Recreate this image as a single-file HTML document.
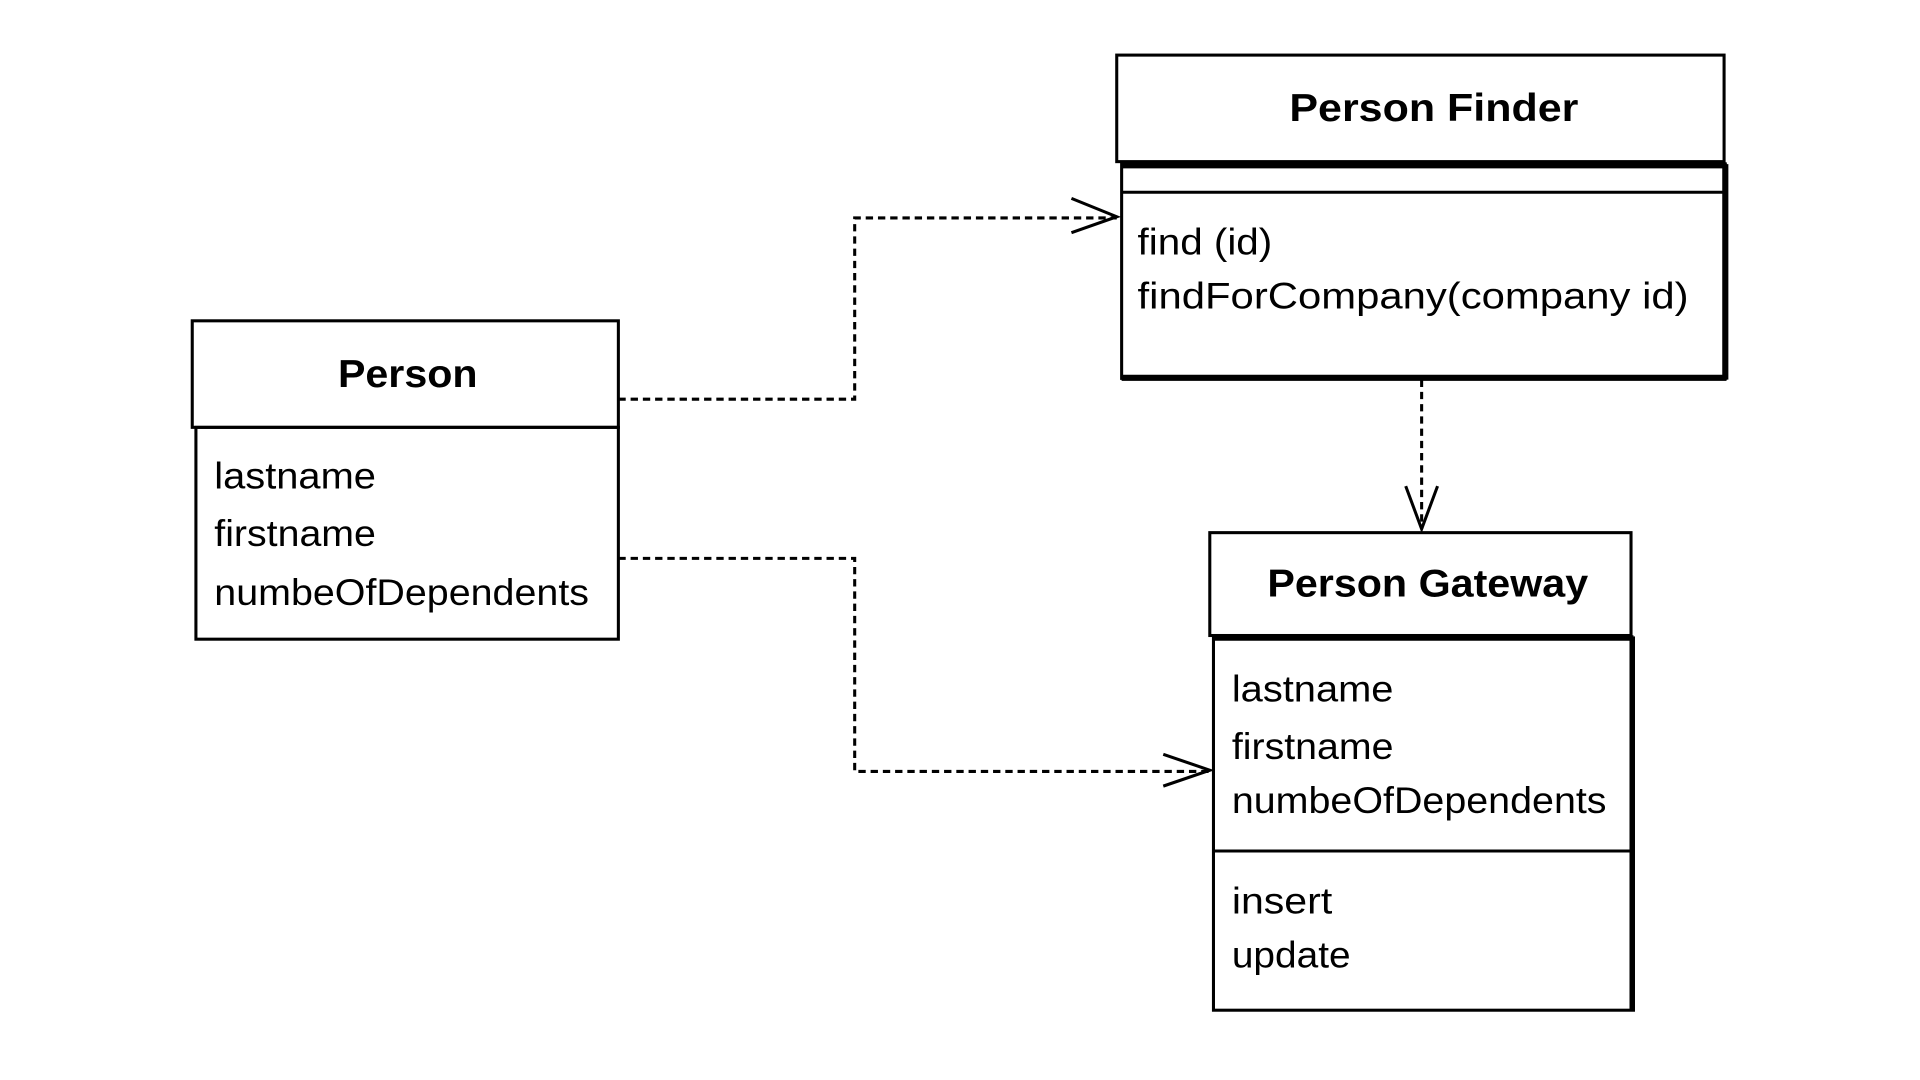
<!DOCTYPE html>
<html><head><meta charset="utf-8"><style>html,body{margin:0;padding:0;background:#fff;width:1920px;height:1080px;overflow:hidden}</style></head>
<body>
<svg width="1920" height="1080" viewBox="0 0 1568 882" xmlns="http://www.w3.org/2000/svg" font-family="Liberation Sans, sans-serif">
<rect width="1568" height="882" fill="#fff"/>
<g fill="none" stroke="#000">
<rect x="157" y="262" width="348" height="87" stroke-width="2.5"/>
<rect x="160" y="349" width="345" height="173" stroke-width="2.5"/>
<rect x="912" y="45" width="496" height="87" stroke-width="2.5"/>
<rect x="916" y="134" width="493" height="175" stroke-width="2.5"/>
<path d="M916 135H1410M1409 134V310M916 308.5H1410" stroke-width="5"/>
<line x1="916" y1="157" x2="1409" y2="157" stroke-width="2.5"/>
<rect x="988" y="435" width="344" height="84" stroke-width="2.5"/>
<rect x="991" y="521" width="343" height="304" stroke-width="2.5"/>
<path d="M991 521H1334M1333 521V826" stroke-width="4.5"/>
<line x1="991" y1="695" x2="1333" y2="695" stroke-width="2.5"/>
<g stroke-width="2.5" stroke-dasharray="6,4">
<polyline points="505,326 698,326 698,178 912,178"/>
<polyline points="505,456 698,456 698,630 990,630"/>
<line x1="1161" y1="310" x2="1161" y2="432"/>
</g>
<g stroke-width="2.5">
<polyline points="875,162 912,177 875,190"/>
<polyline points="950,616 988,629 950,642"/>
<polyline points="1148,397 1161,432 1174,397"/>
</g>
</g>
<g fill="#000">
<text x="333" y="316" font-size="32" font-weight="bold" text-anchor="middle" textLength="114" lengthAdjust="spacingAndGlyphs">Person</text>
<text x="175" y="399" font-size="30" textLength="132" lengthAdjust="spacingAndGlyphs">lastname</text>
<text x="175" y="446" font-size="30" textLength="132" lengthAdjust="spacingAndGlyphs">firstname</text>
<text x="175" y="494" font-size="30" textLength="306" lengthAdjust="spacingAndGlyphs">numbeOfDependents</text>
<text x="1171" y="99" font-size="32" font-weight="bold" text-anchor="middle" textLength="236" lengthAdjust="spacingAndGlyphs">Person Finder</text>
<text x="929" y="208" font-size="30" textLength="110" lengthAdjust="spacingAndGlyphs">find (id)</text>
<text x="929" y="252" font-size="30" textLength="450" lengthAdjust="spacingAndGlyphs">findForCompany(company id)</text>
<text x="1166" y="487" font-size="32" font-weight="bold" text-anchor="middle" textLength="262" lengthAdjust="spacingAndGlyphs">Person Gateway</text>
<text x="1006" y="573" font-size="30" textLength="132" lengthAdjust="spacingAndGlyphs">lastname</text>
<text x="1006" y="620" font-size="30" textLength="132" lengthAdjust="spacingAndGlyphs">firstname</text>
<text x="1006" y="664" font-size="30" textLength="306" lengthAdjust="spacingAndGlyphs">numbeOfDependents</text>
<text x="1006" y="746" font-size="30" textLength="82" lengthAdjust="spacingAndGlyphs">insert</text>
<text x="1006" y="790" font-size="30" textLength="97" lengthAdjust="spacingAndGlyphs">update</text>
</g>
</svg>
</body></html>
